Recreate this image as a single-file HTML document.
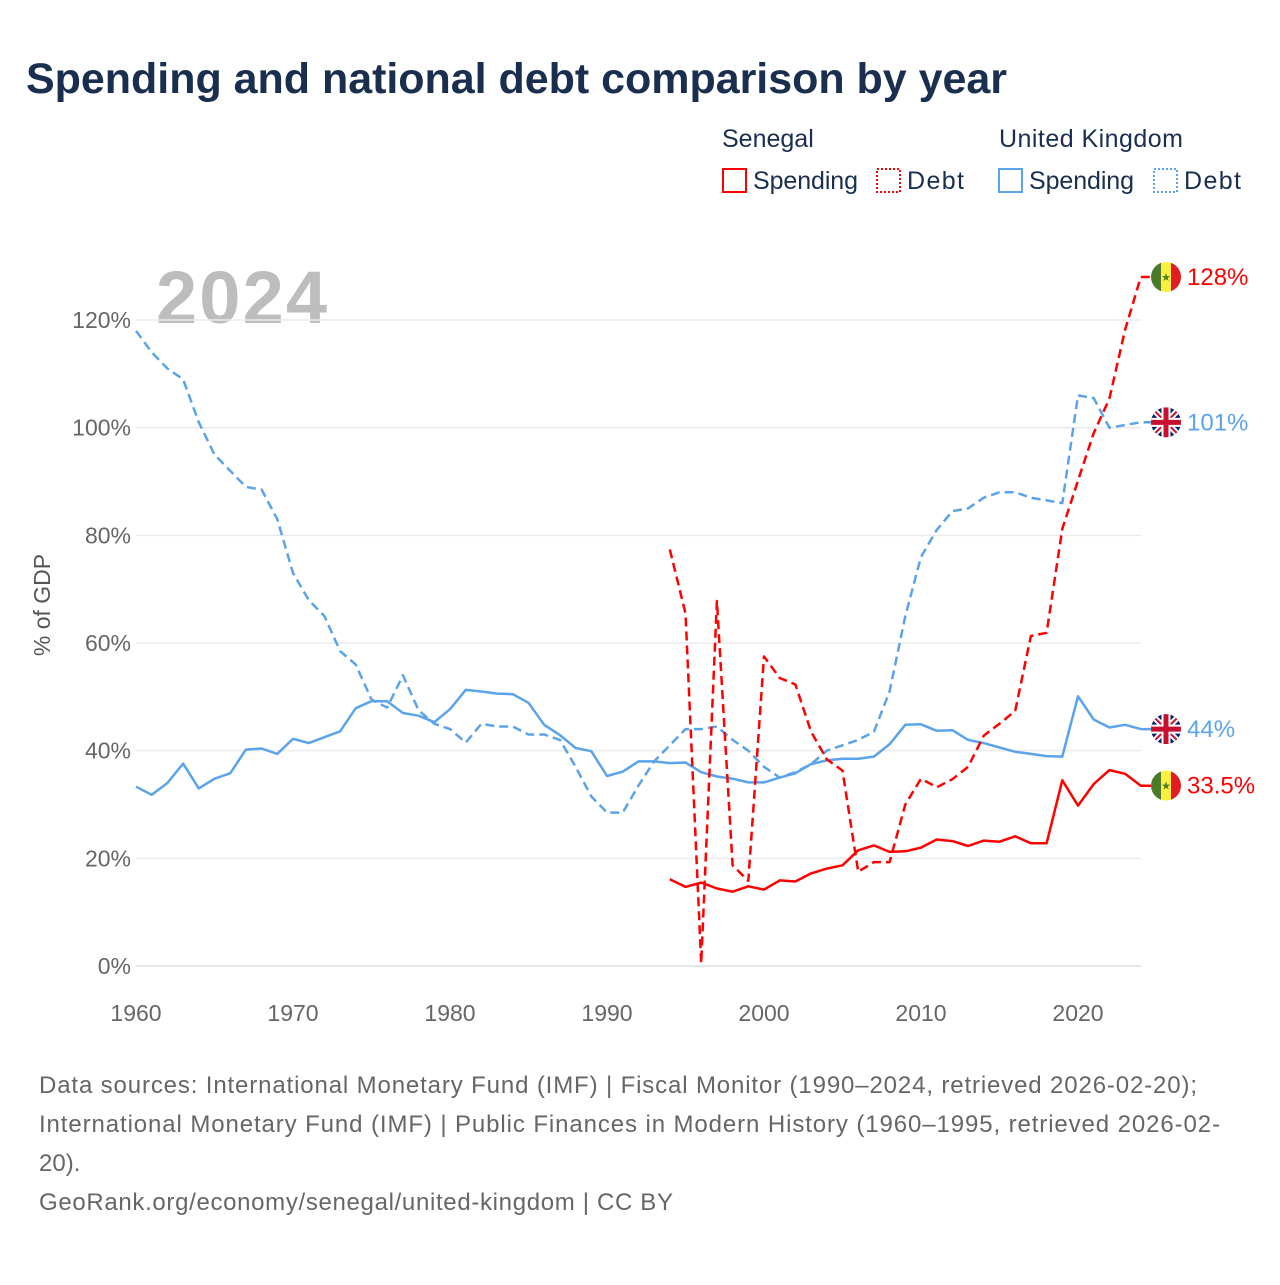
<!DOCTYPE html>
<html><head><meta charset="utf-8"><style>
body{margin:0;background:#fff;font-family:"Liberation Sans",sans-serif;}
</style></head><body>
<svg width="1280" height="1280" xmlns="http://www.w3.org/2000/svg" font-family="Liberation Sans, sans-serif">
<rect width="1280" height="1280" fill="#fff"/>
<text x="26" y="93" font-size="43" font-weight="bold" fill="#1a2e4f" textLength="981">Spending and national debt comparison by year</text>
<g font-size="25" fill="#1a2e4f">
<text x="722" y="147">Senegal</text><text x="999" y="147" textLength="184">United Kingdom</text>
<rect x="723" y="169" width="23" height="23" fill="none" stroke="#f00" stroke-width="2"/><text x="753" y="189" textLength="105">Spending</text>
<rect x="877" y="169" width="23" height="23" fill="none" stroke="#f00" stroke-width="2" stroke-dasharray="2,2"/><text x="907" y="189" textLength="57">Debt</text>
<rect x="999" y="169" width="23" height="23" fill="none" stroke="#5ba3ea" stroke-width="2"/><text x="1029" y="189" textLength="105">Spending</text>
<rect x="1154" y="169" width="23" height="23" fill="none" stroke="#5ba3ea" stroke-width="2" stroke-dasharray="2,2"/><text x="1184" y="189" textLength="57">Debt</text>
</g>
<text x="156" y="323" font-size="74" font-weight="bold" fill="#bdbdbd" textLength="171">2024</text>
<g id="grid"></g><g id="lines"></g><g id="ends"></g>
<text transform="translate(50,605) rotate(-90)" text-anchor="middle" font-size="23" fill="#555">% of GDP</text>
<g font-size="24" fill="#666">
<text x="39" y="1093" textLength="1158">Data sources: International Monetary Fund (IMF) | Fiscal Monitor (1990–2024, retrieved 2026-02-20);</text>
<text x="39" y="1132" textLength="1181">International Monetary Fund (IMF) | Public Finances in Modern History (1960–1995, retrieved 2026-02-</text>
<text x="39" y="1171">20).</text>
<text x="39" y="1210" textLength="634">GeoRank.org/economy/senegal/united-kingdom | CC BY</text>
</g>
</svg>
<script>
const ukYears0 = 1960;
const ukDebt = [118,114,111,109,101,95,92,89,88.5,83,73,68,65,58.5,56,49.5,48,54,47.5,45,44,41.5,45,44.5,44.5,43,43,42,37,31.5,28.5,28.5,33.5,38,41,44,44,44.5,42,40,37,35,36,37.5,40,41,42,43.5,51,65,76,81,84.5,85,87,88,88,87,86.5,86,106,105.5,100,100.5,101];
const ukSpending = [33.3,31.8,34,37.6,33,34.8,35.8,40.2,40.4,39.4,42.2,41.4,42.5,43.6,47.9,49.2,49.2,47,46.5,45.3,47.7,51.3,51,50.6,50.5,48.9,44.8,42.9,40.5,39.9,35.3,36.1,38,38,37.7,37.8,36,35.2,34.8,34.1,34.1,35,35.8,37.5,38.2,38.5,38.5,38.9,41.2,44.8,44.9,43.7,43.8,42,41.4,40.6,39.8,39.4,39,38.9,50.1,45.8,44.3,44.8,44];
const snYears0 = 1994;
const snSpending = [16.1,14.7,15.5,14.4,13.8,14.8,14.2,15.9,15.7,17.2,18.1,18.7,21.5,22.4,21.2,21.3,22,23.5,23.2,22.3,23.3,23.1,24.1,22.8,22.8,34.5,29.8,33.8,36.4,35.7,33.5];
const snDebt = [77.4,65.5,0.5,67.8,18.7,15.8,57.5,53.5,52.3,43.5,38.4,36.3,17.5,19.3,19.3,30,34.8,33.2,34.7,37,42.8,45,47.4,61.3,61.9,81.2,90.2,99,105.4,118.2,128];
const yTicks = [0,20,40,60,80,100,120];
const xTicks = [1960,1970,1980,1990,2000,2010,2020];
const endLabels = ["128%","101%","44%","33.5%"];

const NS="http://www.w3.org/2000/svg";
const X = y => 136 + (y-1960)*15.7;
const Y = v => 966 - v*5.383;
function mk(tag, attrs, parent){const e=document.createElementNS(NS,tag);for(const k in attrs)e.setAttribute(k,attrs[k]);parent.appendChild(e);return e;}
const grid=document.getElementById('grid'), lines=document.getElementById('lines'), ends=document.getElementById('ends');
yTicks.forEach(t=>{
  const l=mk('line',{x1:136,x2:1141,y1:Y(t),y2:Y(t),stroke:t===0?'#ddd':'#ebebeb','stroke-width':1.5},grid);
  
  
  const tx=mk('text',{x:131,y:Y(t)+8,'text-anchor':'end','font-size':23,fill:'#666'},grid);
  
  
  tx.textContent=t+'%';
});
xTicks.forEach(t=>{
  const tx=mk('text',{x:X(t),y:1021,'text-anchor':'middle','font-size':23,fill:'#666'},grid);
  
  
  tx.textContent=t;
});
function series(arr,y0,color,dash,name){
  let d=arr.map((v,i)=>(i?'L':'M')+X(y0+i).toFixed(1)+','+Y(v).toFixed(1)).join('');
  d+='H1151';
  const p=mk('path',{d,fill:'none',stroke:color,'stroke-width':2.5,'stroke-linejoin':'round'},lines);
  if(dash)p.setAttribute('stroke-dasharray','9,5');
  
  
}
series(ukDebt,ukYears0,'#5ba3ea',true,'uk-debt-line');
series(ukSpending,ukYears0,'#5ba3ea',false,'uk-spending-line');
series(snDebt,snYears0,'#f00',true,'senegal-debt-line');
series(snSpending,snYears0,'#f00',false,'senegal-spending-line');
function flag(v,type,label,color,name){
  const cy=Y(v), cx=1166;
  const g=mk('g',{},ends);
  
  
  const clipId='c'+name;
  const cp=mk('clipPath',{id:clipId},g); mk('circle',{cx,cy,r:15},cp);
  const f=mk('g',{'clip-path':'url(#'+clipId+')'},g);
  if(type==='sn'){
    mk('rect',{x:cx-15,y:cy-15,width:10,height:30,fill:'#4a7a2a'},f);
    mk('rect',{x:cx-5,y:cy-15,width:10,height:30,fill:'#fdef42'},f);
    mk('rect',{x:cx+5,y:cy-15,width:10,height:30,fill:'#e31b23'},f);
    mk('text',{x:cx,y:cy+4,'text-anchor':'middle','font-size':11,fill:'#4a7a2a'},f).textContent='★';
  } else {
    mk('rect',{x:cx-15,y:cy-15,width:30,height:30,fill:'#012169'},f);
    mk('path',{d:`M${cx-15},${cy-15}L${cx+15},${cy+15}M${cx+15},${cy-15}L${cx-15},${cy+15}`,stroke:'#fff','stroke-width':6},f);
    mk('path',{d:`M${cx-15},${cy-15}L${cx+15},${cy+15}M${cx+15},${cy-15}L${cx-15},${cy+15}`,stroke:'#c8102e','stroke-width':2},f);
    mk('path',{d:`M${cx},${cy-15}V${cy+15}M${cx-15},${cy}H${cx+15}`,stroke:'#fff','stroke-width':9},f);
    mk('path',{d:`M${cx},${cy-15}V${cy+15}M${cx-15},${cy}H${cx+15}`,stroke:'#c8102e','stroke-width':5},f);
  }
  const t=mk('text',{x:cx+21,y:cy+8,'font-size':24,fill:color},g);
  t.textContent=label;
}
flag(snDebt[snDebt.length-1],'sn',endLabels[0],'#f00','senegal-debt-end-label');
flag(ukDebt[ukDebt.length-1],'uk',endLabels[1],'#5ba3ea','uk-debt-end-label');
flag(ukSpending[ukSpending.length-1],'uk',endLabels[2],'#5ba3ea','uk-spending-end-label');
flag(snSpending[snSpending.length-1],'sn',endLabels[3],'#f00','senegal-spending-end-label');
</script>
</body></html>
